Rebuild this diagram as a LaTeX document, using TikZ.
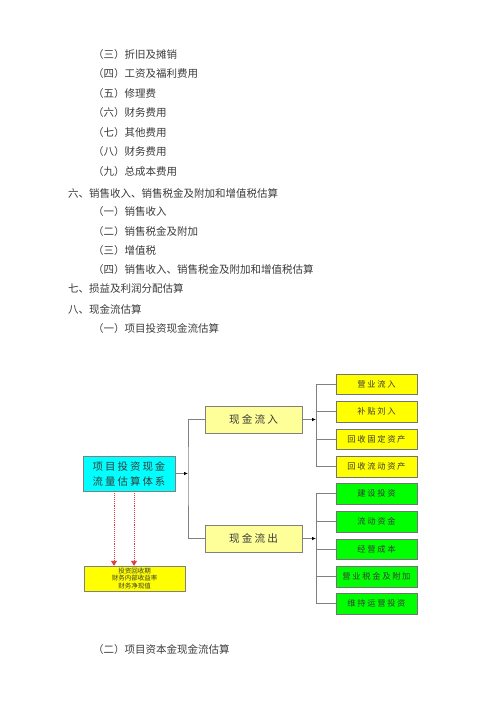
\documentclass[tikz,border=0pt]{standalone}
\usepackage{fontspec}
\setmainfont{Noto Sans CJK SC}
\newfontfamily\cjkwide[LetterSpace=20]{Noto Sans CJK SC}
\usetikzlibrary{positioning,calc,arrows.meta}
\definecolor{PageText}{HTML}{3A3A3A}
\definecolor{HubCyan}{HTML}{00FFFF}
\definecolor{FlowYellow}{HTML}{FFFF99}
\definecolor{ItemYellow}{HTML}{FFFF00}
\definecolor{ItemGreen}{HTML}{00FF00}
\definecolor{WireGray}{HTML}{808080}
\definecolor{ProbeRed}{HTML}{E03C3C}

\tikzset{
  para/.style={anchor=west, inner sep=0pt, font=\fontsize{10.5}{12}\selectfont, text=PageText},
  hub/.style={draw=WireGray, fill=HubCyan, minimum width=92pt, minimum height=35pt, inner sep=0pt, align=center, text=PageText, font=\cjkwide\fontsize{10.4}{15}\selectfont},
  flowbox/.style={draw=WireGray, fill=FlowYellow, minimum width=97pt, minimum height=27pt, inner sep=0pt, text=PageText, font=\cjkwide\fontsize{10.6}{13}\selectfont},
  itembox/.style={draw=black!55, minimum width=81pt, minimum height=20.5pt, inner sep=0pt, text=PageText, font=\cjkwide\fontsize{8.3}{10}\selectfont},
  inbox/.style={itembox, fill=ItemYellow},
  outbox/.style={itembox, fill=ItemGreen},
  sumbox/.style={draw=WireGray, fill=ItemYellow, minimum width=101pt, minimum height=25pt, inner sep=0pt, align=center, text=PageText, font=\fontsize{6.5}{7.2}\selectfont},
  wire/.style={draw=WireGray, line width=0.8pt},
  feed/.style={wire, -{Latex[black,length=4pt,width=3.5pt]}},
  probe/.style={draw=ProbeRed, densely dotted, line width=0.9pt, -{Triangle[ProbeRed,length=5pt,width=6pt]}}
}

\begin{document}
\begin{tikzpicture}[x=1pt,y=-1pt]
  \useasboundingbox (0,0) rectangle (500,707);

  % page text above the chart
  \node[para] (c3) at (93,55)  {（三）折旧及摊销};
  \node[para] (c4) at (93,74)  {（四）工资及福利费用};
  \node[para] (c5) at (93,94)  {（五）修理费};
  \node[para] (c6) at (93,113) {（六）财务费用};
  \node[para] (c7) at (93,133) {（七）其他费用};
  \node[para] (c8) at (93,152) {（八）财务费用};
  \node[para] (c9) at (93,172) {（九）总成本费用};
  \node[para] (s6) at (68,193) {六、销售收入、销售税金及附加和增值税估算};
  \node[para] (s61) at (93,212) {（一）销售收入};
  \node[para] (s62) at (93,232) {（二）销售税金及附加};
  \node[para] (s63) at (93,251) {（三）增值税};
  \node[para] (s64) at (93,270) {（四）销售收入、销售税金及附加和增值税估算};
  \node[para] (s7) at (68,289) {七、损益及利润分配估算};
  \node[para] (s8) at (68,309) {八、现金流估算};
  \node[para] (s81) at (93,329) {（一）项目投资现金流估算};

  % main boxes
  \node[hub] (hub) at (129,473.5) {项目投资现金\\流量估算体系};
  \node[flowbox] (in) at (253.5,419.5) {现金流入};
  \node[flowbox] (out) at (253.5,538.5) {现金流出};
  \node[sumbox] (sum) at (134.5,578.5) {投资回收期\\财务内部收益率\\财务净现值};

  % cash in items
  \node[inbox] (in1) at (376.5,384)   {营业流入};
  \node[inbox] (in2) at (376.5,411.5) {补贴刘入};
  \node[inbox] (in3) at (376.5,439)   {回收固定资产};
  \node[inbox] (in4) at (376.5,466.5) {回收流动资产};

  % cash out items
  \node[outbox] (out1) at (376.5,493.5) {建设投资};
  \node[outbox] (out2) at (376.5,521.5) {流动资金};
  \node[outbox] (out3) at (376.5,549)   {经营成本};
  \node[outbox] (out4) at (376.5,576.5) {营业税金及附加};
  \node[outbox] (out5) at (376.5,603.5) {维持运营投资};

  % hub to the two flows
  \coordinate (hubBus) at (188,473.5);
  \draw[feed] (hub.east) -- (hubBus);
  \draw[wire] (in.west) -| (hubBus) |- (out.west);

  % cash in branch
  \coordinate (inBus) at (316,419.5);
  \draw[feed] (in.east) -- (inBus);
  \draw[wire] (inBus |- in1.west) -- (inBus |- in4.west);
  \foreach \i in {1,...,4}
    \draw[wire] (inBus |- in\i.west) -- (in\i.west);

  % cash out branch
  \coordinate (outBus) at (316,538.5);
  \draw[feed] (out.east) -- (outBus);
  \draw[wire] (outBus |- out1.west) -- (outBus |- out5.west);
  \foreach \i in {1,...,5}
    \draw[wire] (outBus |- out\i.west) -- (out\i.west);

  % evaluation indicators
  \coordinate (probeA) at ([xshift=-15pt]hub.south);
  \coordinate (probeB) at ([xshift=5pt]hub.south);
  \draw[probe] (probeA) -- (probeA |- sum.north);
  \draw[probe] (probeB) -- (probeB |- sum.north);

  % page text below the chart
  \node[para] (s82) at (93,650) {（二）项目资本金现金流估算};
\end{tikzpicture}
\end{document}
